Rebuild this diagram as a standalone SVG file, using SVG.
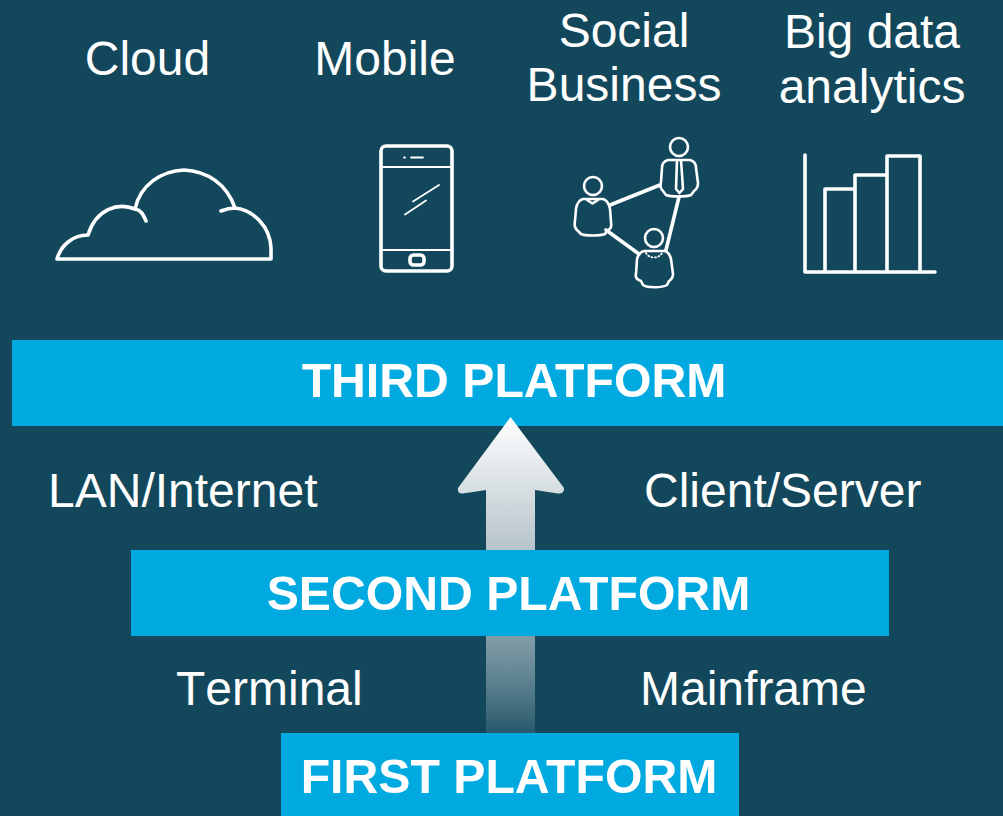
<svg xmlns="http://www.w3.org/2000/svg" width="1003" height="816" viewBox="0 0 1003 816">
<defs>
<linearGradient id="arrowFill" gradientUnits="userSpaceOnUse" x1="0" y1="417" x2="0" y2="735">
<stop offset="0" stop-color="#ffffff"/>
<stop offset="0.4" stop-color="#b9c6cd"/>
<stop offset="1" stop-color="#ffffff" stop-opacity="0.08"/>
</linearGradient>
</defs>
<style>
text{font-family:"Liberation Sans",Arial,sans-serif;fill:#fff;font-size:48px}
.c{text-anchor:middle}
.b{font-weight:bold;font-size:48.2px}
.bar{fill:#00a9e0}
.i{fill:none;stroke:#fff;stroke-width:3.6;stroke-linecap:round;stroke-linejoin:round}
.t{stroke-width:1.8}
.m{stroke-width:2.6}
</style>
<rect width="1003" height="816" fill="#13485c"/>
<g id="third-platform"><rect class="bar" x="12" y="340" width="991" height="86"/><text class="c b" x="514" y="397">THIRD PLATFORM</text></g>
<g id="connectors">
<path d="M510.500 417L564 488Q564.500 494 558 493.500L535 490V735H486V490L463 493.500Q457 494 458 488Z" fill="url(#arrowFill)"/>
</g>
<g id="second-platform"><rect class="bar" x="131" y="550" width="758" height="86"/><text class="c b" x="508.500" y="610">SECOND PLATFORM</text></g>
<g id="first-platform"><rect class="bar" x="281" y="733" width="458" height="83"/><text class="c b" x="509" y="793">FIRST PLATFORM</text></g>
<g id="cloud"><text class="c" x="147.500" y="75">Cloud</text>
<path class="i" d="M57 259H271V248C270 226 253 210 235 208C227 184 207 171 184 170C161 171 140 185 135 209C118 202 96 209 88 235C73 235 61 245 57 259ZM135 209C141 210 143 214 146 221M221 211C226 209 231 208 235 208"/></g>
<g id="mobile"><text class="c" x="385" y="75">Mobile</text>
<rect class="i" x="381" y="146" width="71" height="125" rx="5"/>
<path class="i t" d="M381 167H452M381 250H452M411 157.500H423M404 157.500H405M413 201.500L439 185M405 214.500L426 200.500"/>
<rect class="i" x="410" y="255" width="14" height="10" rx="3.500"/></g>
<g id="social-business"><text class="c" x="624" y="47">Social</text><text class="c" x="624" y="101">Business</text>
<path class="i" d="M610 205L660 185M606 230L639 254M679 197L666 250"/>
<circle class="i m" cx="593" cy="186" r="9"/><circle class="i m" cx="679" cy="147" r="9"/><circle class="i m" cx="654" cy="238" r="9"/>
<path class="i m" d="M583 199H603C607 200 609 204 610 209L611 222C612 226 611 229 607 231L605 234C600 236 585 236 581 234L578 231C574 228 574 225 575 221L576 209C577 203 579 200 583 199ZM587 200L592.500 203.500L598 200"/>
<path class="i m" d="M668 160H690C694 161 696 164 696 168L698 183C698 187 697 189 694 191L691 195C686 197 671 197 666 195L663 191C660 188 660 186 661 182L662 168C662 164 664 161 668 160ZM677 160L676 189L679.500 193L683 189L681 160"/>
<path class="i m" d="M644 251H665C668 252 670 255 671 259L673 274C673 277 672 279 669 281L667 285C662 288 647 288 643 285L641 281C636 279 635 277 636 274L637 259C638 255 640 252 644 251Z"/>
<path class="i t" stroke-dasharray="1 2.500" d="M646 253C649 259 659 259 662 253"/></g>
<g id="big-data"><text class="c" x="872" y="48">Big data</text><text class="c" x="872" y="103">analytics</text>
<path class="i" d="M805 155V272H935M825 272V189H855M855 272V175H887M887 272V156H920V272"/></g>
<g id="labels">
<text x="48" y="507">LAN/Internet</text>
<text x="644" y="507">Client/Server</text>
<text x="176" y="705" style="font-kerning:none">Terminal</text>
<text x="640" y="705">Mainframe</text>
</g>
</svg>
